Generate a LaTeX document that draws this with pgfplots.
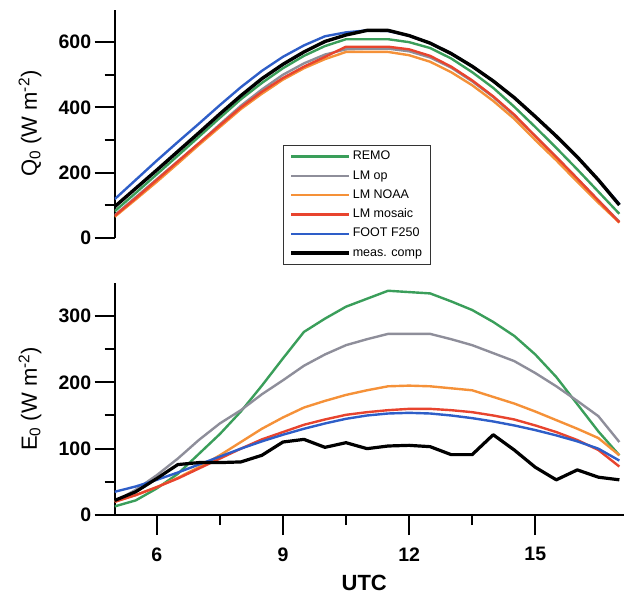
\documentclass[border=0pt]{standalone}
\usepackage{fontspec}
\setmainfont{Liberation Sans}
\usepackage{pgfplots}
\usepackage{pgfplotstable}
\pgfplotsset{compat=1.18}

\definecolor{cRemo}{HTML}{3A9E5A}
\definecolor{cLmop}{HTML}{8E8E9A}
\definecolor{cNoaa}{HTML}{F59138}
\definecolor{cMosaic}{HTML}{E8442E}
\definecolor{cFoot}{HTML}{2E5EC8}

% net radiation Q0, half-hourly
\pgfplotstableread{
t    remo lmop noaa mosaic foot meas
5.0  82   70   65   68     119  96
5.5  138  125  118  122    178  152
6.0  195  180  172  178    237  208
6.5  252  235  228  234    294  265
7.0  310  290  285  290    350  322
7.5  368  348  340  345    407  380
8.0  425  405  395  400    462  436
8.5  475  455  442  448    512  488
9.0  520  500  485  490    555  532
9.5  558  535  520  525    590  570
10.0 588  562  548  555    618  602
10.5 609  578  570  586    630  622
11.0 609  580  570  586    636  636
11.5 609  580  570  586    634  636
12.0 600  572  560  578    620  620
12.5 582  553  540  558    597  597
13.0 550  522  508  525    565  565
13.5 508  480  468  483    526  526
14.0 460  432  420  434    481  481
14.5 402  375  365  378    430  430
15.0 340  312  300  312    372  372
15.5 276  248  238  248    312  312
16.0 210  182  172  182    248  248
16.5 142  115  108  115    178  178
17.0 74   50   47   48     104  101
}\tabQ

% latent heat flux E0
\pgfplotstableread{
t    remo lmop noaa mosaic foot meas
5.0  13   20   20   20     35   22
5.5  22   38   30   30     43   35
6.0  40   60   42   42     53   55
6.5  62   85   56   55     64   76
7.0  92   113  72   70     76   79
7.5  122  138  90   85     88   79
8.0  156  158  110  100    100  80
8.5  195  182  130  114    111  90
9.0  236  203  147  125    121  110
9.5  276  225  162  136    130  114
10.0 296  242  172  144    138  102
10.5 314  256  181  151    145  109
11.0 326  265  188  155    150  100
11.5 338  273  194  158    153  104
12.0 336  273  195  160    154  105
12.5 334  273  194  160    153  103
13.0 322  265  191  158    150  91
13.5 309  256  188  155    146  91
14.0 291  244  178  150    141  121
14.5 270  232  168  144    135  98
15.0 242  214  156  135    128  72
15.5 208  194  143  125    120  53
16.0 167  172  130  113    111  68
16.5 126  149  116  98     100  57
17.0 90   110  90   73     82   53
}\tabE

\pgfplotsset{
  panel/.style={
    scale only axis, width=509.3pt,
    xmin=5, xmax=17.11,
    axis y line*=left, tick align=outside,
    major tick length=20pt, minor tick length=10pt,
    tick style={black, line width=2pt},
    axis line style={line width=2pt},
    minor y tick num=1,
    /pgf/number format/assume math mode=true,
    ticklabel style={font=\fontsize{19.5}{20}\selectfont\bfseries},
    every axis plot/.append style={line width=2.4pt, line join=round},
  },
}

\begin{document}
\begin{tikzpicture}
\useasboundingbox (0,0) rectangle (624pt,595pt);

\begin{axis}[panel, name=top,
    at={(114.7pt,357pt)}, anchor=south west,
    height=228.5pt, ymin=0, ymax=700,
    ytick={0,200,400,600},
    hide x axis,
    ylabel={Q\textsubscript{0} (W m\textsuperscript{-2})},
    ylabel style={at={(axis description cs:-0.1663,0.5)}, anchor=center,
                  font=\fontsize{22}{24}\selectfont},
    legend image code/.code={\draw[#1] (0pt,0pt) -- (58pt,0pt);},
    legend style={at={(axis description cs:0.3305,0.407)}, anchor=north west,
                  draw=black!80, line width=0.8pt, fill=white,
                  inner xsep=6pt, inner ysep=3.5pt, row sep=4pt,
                  font=\fontsize{12.5}{13}\selectfont,
                  nodes={inner sep=2pt, text height=8.8pt, text depth=2.5pt}},
    legend cell align=left,
  ]
  \addplot[cRemo] table[x=t, y=remo] {\tabQ};
  \addplot[cLmop] table[x=t, y=lmop] {\tabQ};
  \addplot[cNoaa] table[x=t, y=noaa] {\tabQ};
  \addplot[cMosaic] table[x=t, y=mosaic] {\tabQ};
  \addplot[cFoot] table[x=t, y=foot] {\tabQ};
  \addplot[black, line width=3.4pt] table[x=t, y=meas] {\tabQ};
  \legend{REMO, LM op, LM NOAA, LM mosaic, FOOT F250, meas. comp}
\end{axis}

\begin{axis}[panel, name=bot,
    at={(114.7pt,80pt)}, anchor=south west,
    height=232.2pt, ymin=0, ymax=350,
    ytick={0,100,200,300},
    axis x line*=bottom,
    xtick={6,9,12,15}, minor x tick num=1,
    xticklabel style={yshift=-9pt},
    xlabel={UTC},
    xlabel style={at={(axis description cs:0.49,-0.293)}, anchor=center,
                  font=\fontsize{22}{24}\selectfont\bfseries},
    ylabel={E\textsubscript{0} (W m\textsuperscript{-2})},
    ylabel style={at={(axis description cs:-0.1663,0.5)}, anchor=center,
                  font=\fontsize{22}{24}\selectfont},
  ]
  \addplot[cRemo] table[x=t, y=remo] {\tabE};
  \addplot[cLmop] table[x=t, y=lmop] {\tabE};
  \addplot[cNoaa] table[x=t, y=noaa] {\tabE};
  \addplot[cMosaic] table[x=t, y=mosaic] {\tabE};
  \addplot[cFoot] table[x=t, y=foot] {\tabE};
  \addplot[black, line width=3.2pt] table[x=t, y=meas] {\tabE};
\end{axis}
\end{tikzpicture}
\end{document}
